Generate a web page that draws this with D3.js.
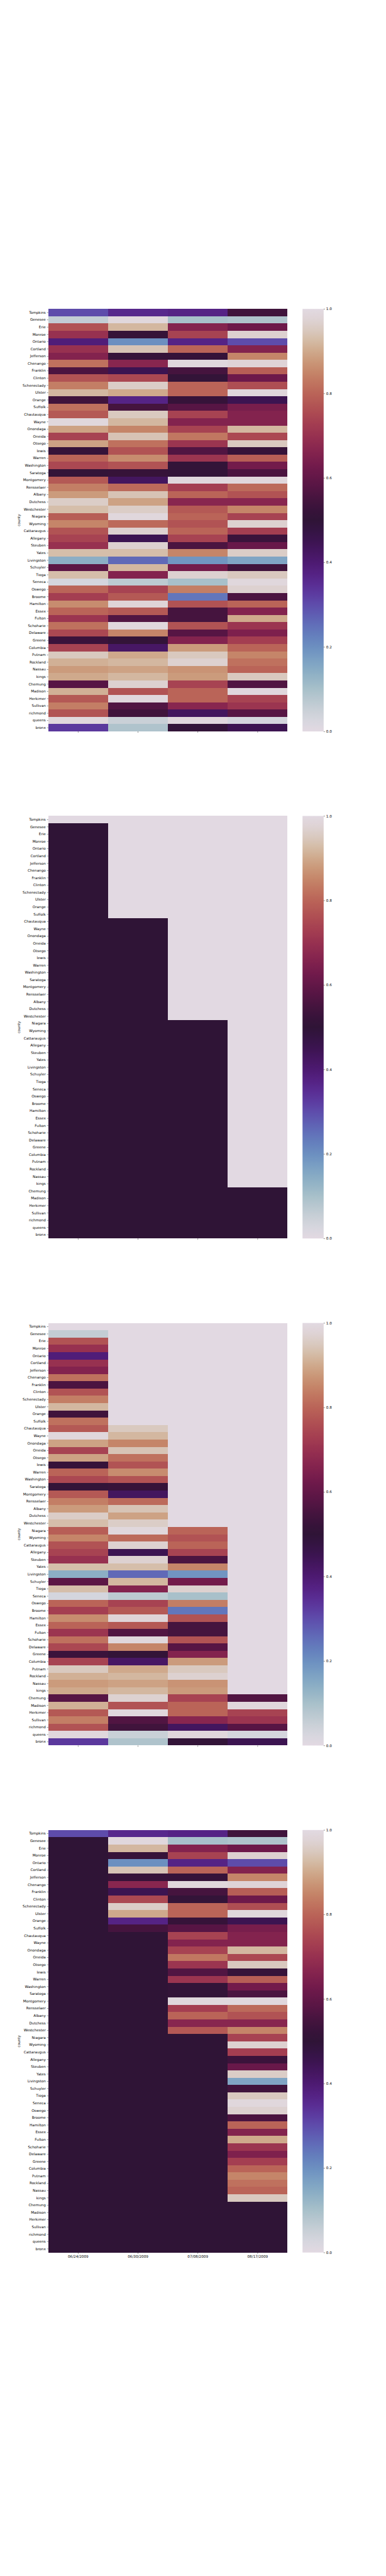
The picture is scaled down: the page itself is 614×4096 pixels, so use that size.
<!DOCTYPE html>
<html><head><meta charset="utf-8">
<script src="https://cdn.jsdelivr.net/npm/d3@7"></script>
<style>html,body{margin:0;padding:0;background:#fff;} svg{display:block;}</style>
</head><body>
<svg id="chart" width="614" height="4096"></svg>
<script>
// ---------- data ----------
const counties = ["Tompkins","Genesee","Erie","Monroe","Ontario","Cortland","Jefferson","Chenango","Franklin","Clinton","Schenectady","Ulster","Orange","Suffolk","Chautauqua","Wayne","Onondaga","Oneida","Otsego","lewis","Warren","Washington","Saratoga","Montgomery","Rensselaer","Albany","Dutchess","Westchester","Niagara","Wyoming","Cattaraugus","Allegany","Steuben","Yates","Livingston","Schuyler","Tioga","Seneca","Oswego","Broome","Hamilton","Essex","Fulton","Schoharie","Delaware","Greene","Columbia","Putnam","Rockland","Nassau","kings","Chemung","Madison","Herkimer","Sullivan","richmond","queens","bronx"];
const dates = ["06/24/2009","06/30/2009","07/08/2009","08/17/2009"];

const v0624 = [0.30,0.06,0.77,0.70,0.39,0.70,0.66,0.82,0.56,0.77,0.84,0.92,0.54,0.82,0.78,0.99,0.89,0.74,0.89,0.52,0.80,0.75,0.51,0.78,0.84,0.88,0.96,0.93,0.79,0.85,0.77,0.74,0.70,0.93,0.14,0.59,0.93,0.03,0.80,0.73,0.86,0.80,0.71,0.82,0.75,0.53,0.74,0.95,0.91,0.88,0.90,0.58,0.91,0.78,0.84,0.77,0.99,0.33];
const v0630 = [0.36,0.99,0.92,0.52,0.20,0.94,0.52,0.67,0.45,0.75,0.96,0.90,0.37,0.55,0.95,0.92,0.85,0.94,0.82,0.77,0.86,0.77,0.52,0.43,0.81,0.94,0.89,0.96,0.99,0.81,0.97,0.45,0.97,0.93,0.26,0.92,0.66,0.07,0.74,0.78,0.98,0.78,0.57,0.99,0.85,0.51,0.42,0.90,0.92,0.89,0.92,0.97,0.77,0.99,0.57,0.54,0.05,0.09];
const v0708 = [0.37,0.10,0.66,0.74,0.37,0.80,0.52,0.99,0.55,0.51,0.80,0.80,0.52,0.58,0.74,0.66,0.74,0.83,0.71,0.57,0.71,0.51,0.51,0.99,0.73,0.80,0.67,0.78,0.80,0.77,0.80,0.74,0.56,0.85,0.19,0.63,0.97,0.10,0.84,0.24,0.77,0.55,0.55,0.77,0.58,0.66,0.88,0.95,0.97,0.87,0.88,0.74,0.80,0.80,0.67,0.43,0.99,0.51];
const v0817 = [0.54,0.09,0.62,0.97,0.30,0.66,0.85,0.98,0.79,0.62,0.76,0.99,0.45,0.64,0.66,0.66,0.92,0.75,0.95,0.52,0.79,0.63,0.56,0.99,0.81,0.77,0.67,0.85,0.74,0.97,0.73,0.53,0.61,0.96,0.16,0.54,0.95,0.99,0.97,0.56,0.80,0.66,0.90,0.71,0.65,0.73,0.80,0.85,0.82,0.80,0.95,0.57,0.99,0.74,0.71,0.58,0.03,0.45];

// index of the first county (row) that falls in the "observed" block, per date
const firstObserved = [1, 14, 28, 51];
const maskInside = 0.5;   // value drawn inside the block (dark)
const maskOutside = 1.0;  // value drawn outside the block (light)

const colorbarTicks = [0.0, 0.2, 0.4, 0.6, 0.8, 1.0];

// twilight colormap anchors (0 → 1, evenly spaced)
const twilightColors = ["#e2d9e2","#d7d6de","#c9d0d7","#b9c8d0","#a8c0ca","#96b5c6","#86aac4","#789dc3","#6c8fc0","#6580bd","#6170b9","#5f5eb3","#5e4cab","#5c3ba0","#592c92","#542182","#4d1a71","#451661","#3c1451","#341443","#2f1436","#38133a","#45143e","#541543","#621747","#701a4b","#7e204d","#8b284f","#973150","#a23c51","#ab4852","#b35654","#ba6458","#c0745f","#c58569","#ca9778","#cfa98c","#d4bba5","#d9c9bf","#ded3d4","#e2d9e2"];

// ---------- drawing ----------
const S = 614 / 1080;
const FONT = "'DejaVu Sans', sans-serif";
const L = { left: 135, width: 669.6, top0: 864, h: 1181.74, step: 1418.09, cbX: 846.45, cbW: 59.1 };

const svg = d3.select("#chart");
const defs = svg.append("defs");
const root = svg.append("g").attr("transform", `scale(${S})`);

const color = d3.scaleSequential(d3.piecewise(d3.interpolateRgb, twilightColors)).domain([0, 1]);

const grad = defs.append("linearGradient").attr("id", "twilightGrad")
  .attr("x1", 0).attr("y1", 1).attr("x2", 0).attr("y2", 0);
grad.selectAll("stop").data(d3.range(0, 1.0001, 0.005)).join("stop")
  .attr("offset", d => d).attr("stop-color", d => color(d));

const x = d3.scaleBand().domain(dates).range([L.left, L.left + L.width]).padding(0);
const series = [v0624, v0630, v0708, v0817];

const panels = [
  (r, c) => series[c][r],
  (r, c) => r >= firstObserved[c] ? maskInside : maskOutside,
  (r, c) => r >= firstObserved[c] ? series[c][r] : maskOutside,
  (r, c) => r >= firstObserved[c] ? maskInside : series[c][r]
];

function styleAxis(a) {
  a.select(".domain").remove();
  a.attr("font-family", FONT).attr("font-size", 10);
  a.selectAll("text").attr("fill", "#000");
  a.selectAll("line").attr("stroke", "#000").attr("stroke-width", 0.8);
}

panels.forEach((fn, k) => {
  const top = L.top0 + k * L.step;
  const y = d3.scaleBand().domain(counties).range([top, top + L.h]).padding(0);
  const g = root.append("g");

  const cells = [];
  counties.forEach((cn, r) => dates.forEach((d, c) => cells.push({ cn, d, v: fn(r, c) })));

  g.append("g").selectAll("rect").data(cells).join("rect")
    .attr("x", d => x(d.d)).attr("y", d => y(d.cn))
    .attr("width", x.bandwidth()).attr("height", y.bandwidth())
    .attr("fill", d => color(d.v))
    .attr("shape-rendering", "crispEdges");

  const ya = g.append("g").attr("transform", `translate(${L.left},0)`)
    .call(d3.axisLeft(y).tickSize(3.5).tickPadding(3.5));
  styleAxis(ya);

  const xa = g.append("g").attr("transform", `translate(0,${top + L.h})`)
    .call(d3.axisBottom(x).tickSize(3.5).tickPadding(3.5).tickFormat(k === 3 ? (d => d) : (() => "")));
  styleAxis(xa);

  g.append("text")
    .attr("transform", `translate(57,${top + L.h / 2}) rotate(-90)`)
    .attr("text-anchor", "middle").attr("font-family", FONT).attr("font-size", 10)
    .attr("fill", "#000").text("county");

  // colorbar
  const cy = d3.scaleLinear().domain([0, 1]).range([top + L.h, top]);
  g.append("rect").attr("x", L.cbX).attr("y", cy(1)).attr("width", L.cbW)
    .attr("height", cy(0) - cy(1)).attr("fill", "url(#twilightGrad)");
  const ca = g.append("g").attr("transform", `translate(${L.cbX + L.cbW},0)`)
    .call(d3.axisRight(cy).tickValues(colorbarTicks).tickFormat(d3.format(".1f")).tickSize(3.5).tickPadding(3.5));
  styleAxis(ca);
});
</script>
</body></html>
